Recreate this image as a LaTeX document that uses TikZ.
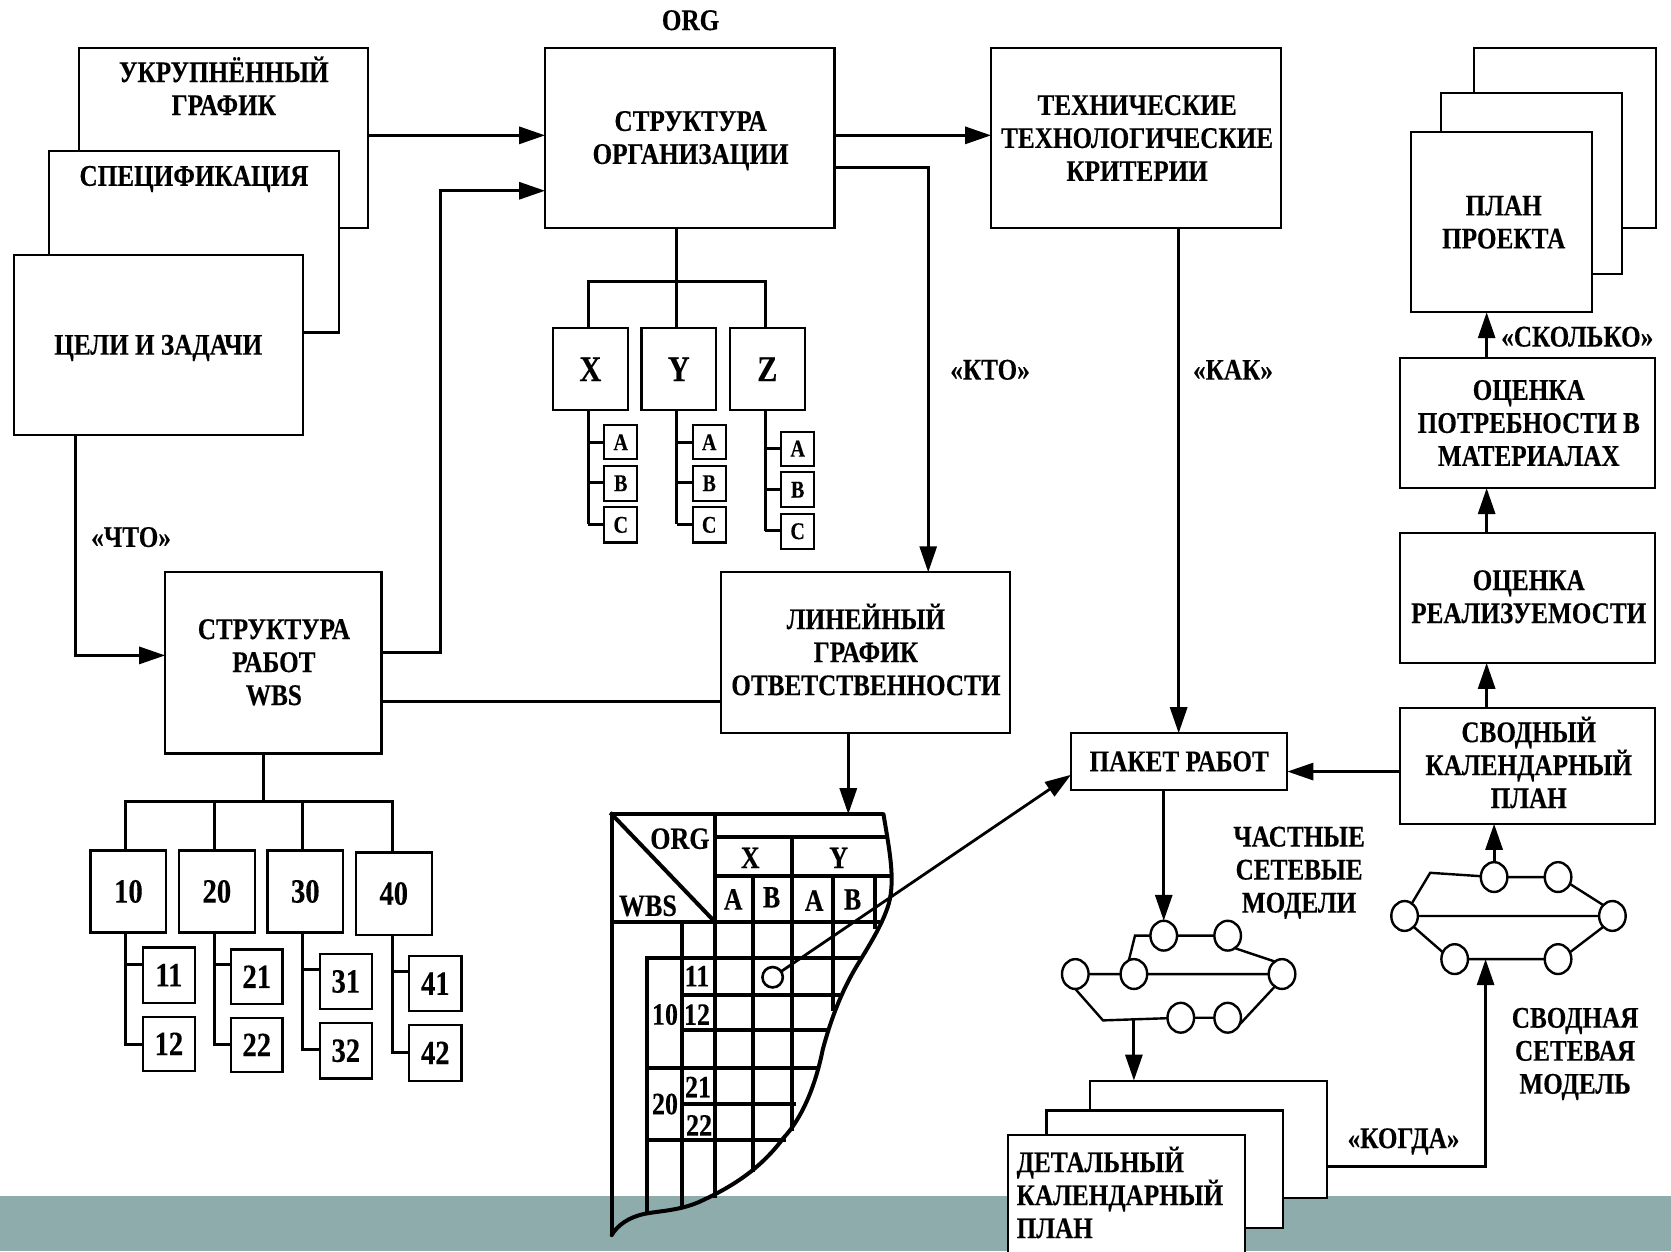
\documentclass[tikz,border=0pt]{standalone}
\usepackage{fontspec}
\setmainfont[FakeStretch=0.84,BoldFeatures={FakeStretch=0.84,FakeBold=0.25}]{Liberation Serif}
\usetikzlibrary{arrows.meta,shapes.geometric}
\tikzset{
 bx/.style={draw=black,fill=white,line width=1.1pt,inner sep=0pt,outer sep=0pt,align=center,
   font=\fontsize{15}{16.5}\selectfont\bfseries},
 lbl/.style={inner sep=0pt,outer sep=0pt,align=center,font=\fontsize{15}{16.5}\selectfont\bfseries},
 conn/.style={line width=1.5pt,line join=miter},
 arr/.style={conn,-{Triangle[length=13pt,width=8.5pt]}},
 grid/.style={line width=2pt,line cap=rect},
 big/.style={font=\fontsize{18}{20}\selectfont\bfseries},
 mid/.style={font=\fontsize{17}{20}\selectfont\bfseries},
 sm/.style={font=\fontsize{12}{14}\selectfont\bfseries},
 ev/.style={draw=black,fill=white,ellipse,line width=1.2pt,inner sep=0pt,outer sep=0pt,minimum width=13.3pt,minimum height=14.9pt},
 nl/.style={line width=1.2pt},
}
\newcommand\boxn[7][]{%
 \pgfmathsetmacro\bw{(#5-#3)*0.53285}\pgfmathsetmacro\bh{(#6-#4)*0.53285}%
 \node[bx,minimum width=\bw pt,minimum height=\bh pt,#1] (#2) at ({(#3+#5)/2},{(#4+#6)/2}) {#7};}
\begin{document}
\begin{tikzpicture}[x=0.53285pt,y=-0.53285pt]
\useasboundingbox (0,0) rectangle (1568,1174);
\clip (0,0) rectangle (1568,1174);
\fill[fill={rgb,255:red,142;green,172;blue,172}] (0,1122) rectangle (1568,1174);

% left stack
\boxn{ukr}{74}{45}{345}{214}{}
\boxn{spec}{46}{142}{318}{312}{}
\boxn{goal}{13}{239}{284}{408}{}
\node[lbl] (goalt) at (148.5,326.5) {ЦЕЛИ И ЗАДАЧИ};
\node[lbl] (ukrt) at (210,80.5) {УКРУПНЁННЫЙ\\ГРАФИК};
\node[lbl] (spect) at (182,168) {СПЕЦИФИКАЦИЯ};

% centre top
\node[lbl] (orgl) at (648,19) {ORG};
\boxn{org}{511.5}{45}{783}{214}{}
\node[lbl] (orgt) at (648,132) {СТРУКТУРА\\ОРГАНИЗАЦИИ};
\boxn{tech}{930}{45}{1202}{214}{}
\node[lbl] (techt) at (1067,129.5) {ТЕХНИЧЕСКИЕ\\ТЕХНОЛОГИЧЕСКИЕ\\КРИТЕРИИ};

% plan stack
\boxn{pa}{1383}{45}{1554}{214}{}
\boxn{pb}{1352}{87}{1522}{257}{}
\boxn{plan}{1324}{124}{1494}{293}{}
\node[lbl] (plant) at (1411,208.5) {ПЛАН\\ПРОЕКТА};

% org tree
\draw[conn] (org.south -| 635,0) -- (635,308);
\draw[conn] (552,308) -- (552,264) -- (718,264) -- (718,308);
\draw[conn] (552,385) -- (552,492);
\draw[conn] (635,385) -- (635,492);
\draw[conn] (718,385) -- (718,498);
\boxn[big]{X}{519}{308}{589}{385}{X}
\boxn[big]{Y}{602}{308}{672}{385}{Y}
\boxn[big]{Z}{685}{308}{755}{385}{Z}
\foreach \n/\xa/\xb/\s in {X/567/598/552,Y/650/681/635}{
 \draw[conn] (\s,415) -- (\xa,415) (\s,453) -- (\xa,453) (\s,492) -- (\xa,492);
 \boxn[sm]{\n a}{\xa}{399}{\xb}{431}{A}
 \boxn[sm]{\n b}{\xa}{437}{\xb}{470}{B}
 \boxn[sm]{\n c}{\xa}{476}{\xb}{509}{C}
}
\draw[conn] (718,421) -- (733,421) (718,459) -- (733,459) (718,498) -- (733,498);
\boxn[sm]{Za}{733}{405}{764}{437}{A}
\boxn[sm]{Zb}{733}{443}{764}{476}{B}
\boxn[sm]{Zc}{733}{482}{764}{515}{C}

% WBS and responsibility
\boxn{wbs}{155}{537}{358}{707}{}
\node[lbl] (wbst) at (257,621.5) {СТРУКТУРА\\РАБОТ\\WBS};
\boxn{lin}{676.5}{537}{948}{688}{}
\node[lbl] (lint) at (812.5,609.5) {ЛИНЕЙНЫЙ\\ГРАФИК\\ОТВЕТСТВЕННОСТИ};

% WBS tree
\draw[conn] (wbs.south -| 247,0) -- (247,752);
\draw[conn] (118,798) -- (118,752) -- (368,752) -- (368,800);
\draw[conn] (201,752) -- (201,798) (284,752) -- (284,798);
\draw[conn] (118,875) -- (118,980) -- (134,980) (118,905) -- (134,905);
\draw[conn] (201,875) -- (201,980) -- (217,980) (201,905) -- (217,905);
\draw[conn] (284,875) -- (284,985) -- (300,985) (284,910) -- (300,910);
\draw[conn] (368,877) -- (368,988) -- (384,988) (368,912) -- (384,912);
\boxn[mid]{n10}{85}{798}{156}{875}{10}
\boxn[mid]{n20}{168}{798}{239}{875}{20}
\boxn[mid]{n30}{251}{798}{322}{875}{30}
\boxn[mid]{n40}{334}{800}{405}{877}{40}
\boxn[mid]{n11}{134}{889}{183}{941}{11}
\boxn[mid]{n12}{134}{954}{183}{1005}{12}
\boxn[mid]{n21}{217}{891}{265}{942}{21}
\boxn[mid]{n22}{217}{955}{265}{1006}{22}
\boxn[mid]{n31}{300}{895}{349}{947}{31}
\boxn[mid]{n32}{300}{960}{349}{1012}{32}
\boxn[mid]{n41}{384}{897}{433}{949}{41}
\boxn[mid]{n42}{384}{962}{433}{1014}{42}

% right column
\boxn{pack}{1005}{688}{1208}{741}{ПАКЕТ РАБОТ}
\boxn{svod}{1314}{664}{1553}{773}{}
\node[lbl] (svodt) at (1434.5,715.5) {СВОДНЫЙ\\КАЛЕНДАРНЫЙ\\ПЛАН};
\boxn{real}{1314}{500}{1553}{622}{}
\node[lbl] (realt) at (1434.5,560) {ОЦЕНКА\\РЕАЛИЗУЕМОСТИ};
\boxn{need}{1314}{336}{1553}{458}{}
\node[lbl] (needt) at (1434.5,397) {ОЦЕНКА\\ПОТРЕБНОСТИ В\\МАТЕРИАЛАХ};

% detail stack
\boxn{da}{1023}{1014}{1245}{1124}{}
\boxn{db}{982}{1042}{1204}{1152}{}
\boxn{dc}{946}{1065}{1168}{1190}{}
\node[lbl,align=left,anchor=west] (dct) at (954,1119) {ДЕТАЛЬНЫЙ\\КАЛЕНДАРНЫЙ\\ПЛАН};

% responsibility table
\draw[line width=2pt,line join=miter] (574,1159) -- (574,764) -- (829,764);
\draw[grid] (574,764) -- (670.6,864.8);
\draw[grid] (670.6,764) -- (670.6,1122);
\draw[grid] (706.9,821.7) -- (706.9,1098);
\draw[grid] (742.9,785) -- (742.9,1059);
\draw[grid] (781.9,821.7) -- (781.9,947);
\draw[grid] (821,821.7) -- (821,870);
\draw[grid] (640.3,864.8) -- (640.3,1133);
\draw[grid] (606.8,899.3) -- (606.8,1138);
\draw[grid] (670.6,785) -- (832,785);
\draw[grid] (670.6,821.7) -- (836,821.7);
\draw[grid] (574,864.8) -- (824,864.8);
\draw[grid] (606.8,899.3) -- (806,899.3);
\draw[grid] (640.3,933.7) -- (786,933.7);
\draw[grid] (640.3,966.6) -- (776,966.6);
\draw[grid] (606.8,1002.5) -- (767,1002.5);
\draw[grid] (640.3,1036) -- (745,1036);
\draw[grid] (606.8,1069.7) -- (736,1069.7);
\draw[line width=2pt,line cap=round] (829,764) .. controls (835,800) and (840,825) .. (834,848) .. controls (828,868) and (815,888) .. (803,908) .. controls (790,930) and (780,955) .. (772,985) .. controls (765,1020) and (752,1050) .. (735,1068) .. controls (715,1095) and (690,1112) .. (660,1126) .. controls (640,1136) and (620,1136) .. (605,1139) .. controls (590,1142) and (579,1150) .. (574,1159);
\foreach \nm/\px/\py/\t in {torg/638/787/ORG,twbs/608/850/WBS,tx/704/805/X,ty/787/805/Y,ta1/688/844/A,tb1/724/842/B,ta2/764/845/A,tb2/800/844/B,
 t11/654/916/11,t12/654/952/12,t10/624/952/10,t21/655/1020/21,t22/656/1056/22,t20/624/1036/20}
 \node[lbl,font=\fontsize{15.5}{16}\selectfont\bfseries] (\nm) at (\px,\py) {\t};
\node[circle,draw=black,line width=1.3pt,inner sep=0pt,outer sep=0pt,minimum size=10.2pt] (cell) at (725,917) {};

% network 1
\node[ev] (a1) at (1009,914) {};
\node[ev] (b1) at (1064,914) {};
\node[ev] (c1) at (1092,878) {};
\node[ev] (d1) at (1152,878) {};
\node[ev] (e1) at (1203,914) {};
\node[ev] (f1) at (1108,955) {};
\node[ev] (g1) at (1152,955) {};
\coordinate (k1) at (1065,878);
\coordinate (k2) at (1035,957.5);
\coordinate (k3) at (1064,957.5);
\draw[nl] (a1) -- (b1) (b1) -- (e1) (b1.110) -- (k1) -- (c1) (c1) -- (d1) (d1.-60) -- (e1.120) (a1.-90) -- (k2) -- (f1) (f1) -- (g1) (g1.-30) -- (e1.240);

% network 2
\node[ev] (a2) at (1318,859.5) {};
\node[ev] (b2) at (1402,823) {};
\node[ev] (c2) at (1462,823) {};
\node[ev] (d2) at (1513,859.5) {};
\node[ev] (e2) at (1365,900) {};
\node[ev] (f2) at (1462,900) {};
\coordinate (k4) at (1342,819);
\coordinate (k5) at (1394,900);
\draw[nl] (a2.60) -- (k4) -- (b2) (b2) -- (c2) (c2.-30) -- (d2.130) (a2) -- (d2) (a2.-50) -- (e2.150) (e2) -- (f2) (f2.30) -- (d2.230);

% connectors
\draw[arr] (ukr.east |- 0,127) -- (org.west |- 0,127);
\draw[arr] (wbs.east |- 0,612) -- (413,612) -- (413,179) -- (org.west |- 0,179);
\draw[arr] (goal.south -| 71,0) -- (71,615) -- (wbs.west |- 0,615);
\draw[arr] (org.east |- 0,127) -- (tech.west |- 0,127);
\draw[arr] (org.east |- 0,157) -- (871,157) -- (lin.north -| 871,0);
\draw[conn] (wbs.east |- 0,658) -- (lin.west |- 0,658);
\draw[arr] (tech.south -| 1106,0) -- (pack.north -| 1106,0);
\draw[arr] (svod.west |- 0,724) -- (pack.east |- 0,724);
\draw[arr] (pack.south -| 1092,0) -- (c1.north);
\draw[arr] (k3) -- (da.north -| 1064,0);
\draw[arr] (need.north -| 1395,0) -- (plan.south -| 1395,0);
\draw[arr] (real.north -| 1395,0) -- (need.south -| 1395,0);
\draw[arr] (svod.north -| 1395,0) -- (real.south -| 1395,0);
\draw[arr] (b2.north) -- (svod.south -| 1402,0);
\draw[arr] (da.east |- 0,1095) -- (1394,1095) -- (k5);
\draw[arr] (lin.south -| 796,0) -- (796,764);
\draw[arr,line width=1.4pt] (cell) -- (pack.west |- 0,727);

% labels
\node[lbl] (lwhat) at (123,504) {«ЧТО»};
\node[lbl] (lwho) at (929,347) {«КТО»};
\node[lbl] (lhow) at (1157,347) {«КАК»};
\node[lbl] (lmuch) at (1480,316) {«СКОЛЬКО»};
\node[lbl] (lwhen) at (1317,1071) {«КОГДА»};
\node[lbl] (lpn) at (1219,819) {ЧАСТНЫЕ\\СЕТЕВЫЕ\\МОДЕЛИ};
\node[lbl] (lsn) at (1478,989) {СВОДНАЯ\\СЕТЕВАЯ\\МОДЕЛЬ};
\end{tikzpicture}
\end{document}
